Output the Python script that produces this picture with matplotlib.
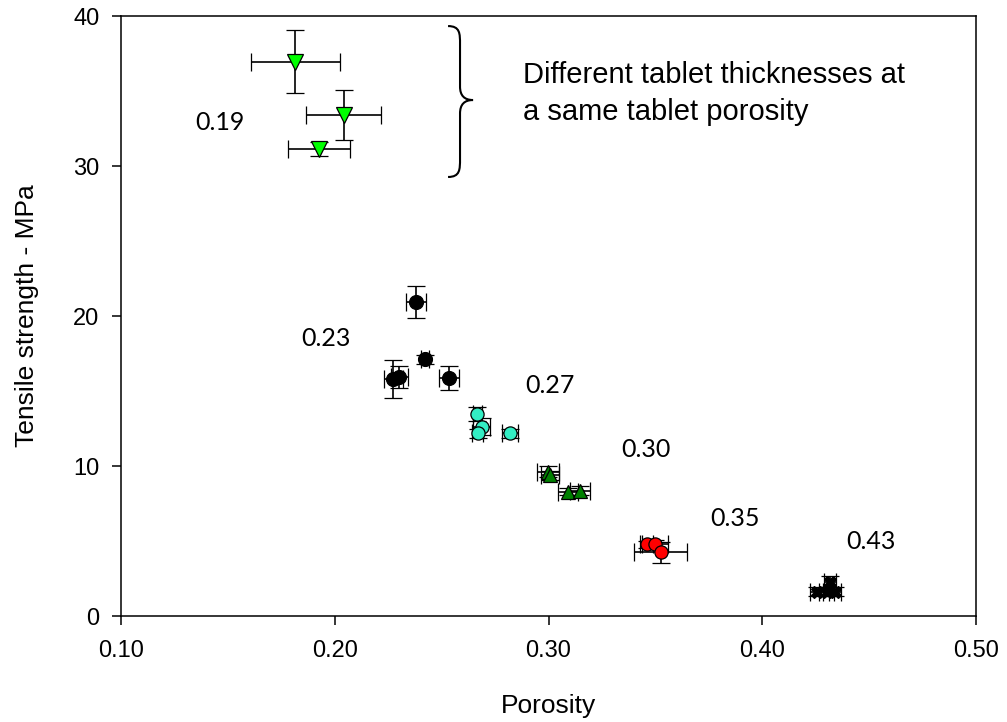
import matplotlib
matplotlib.use("Agg")
import matplotlib.pyplot as plt
from matplotlib.path import Path
from matplotlib.patches import PathPatch

# Porosity groups: x = porosity, y = tensile strength (MPa), with errors
p019_x = [0.1815, 0.2042, 0.1928]
p019_y = [36.95, 33.40, 31.13]
p019_xerr = [0.0208, 0.0175, 0.0145]
p019_yerr = [2.09, 1.68, 0.47]

p023_x = [0.2379, 0.2422, 0.2535, 0.2274, 0.2302]
p023_y = [20.95, 17.13, 15.85, 15.80, 15.95]
p023_xerr = [0.0047, 0.0020, 0.0047, 0.0045, 0.0040]
p023_yerr = [1.08, 0.30, 0.80, 1.25, 0.75]

p027_x = [0.2667, 0.2687, 0.2669, 0.2820]
p027_y = [13.45, 12.62, 12.18, 12.18]
p027_xerr = [0.0020, 0.0039, 0.0025, 0.0037]
p027_yerr = [0.47, 0.58, 0.30, 0.30]

p030_x = [0.2999, 0.3007, 0.3093, 0.3147]
p030_y = [9.62, 9.40, 8.29, 8.35]
p030_xerr = [0.0051, 0.0040, 0.0047, 0.0047]
p030_yerr = [0.35, 0.30, 0.25, 0.30]

p035_x = [0.3459, 0.3498, 0.3525]
p035_y = [4.78, 4.78, 4.25]
p035_xerr = [0.0030, 0.0060, 0.0125]
p035_yerr = [0.25, 0.30, 0.70]

p043_x = [0.4255, 0.4301, 0.4317, 0.4340]
p043_y = [1.62, 1.62, 2.29, 1.62]
p043_xerr = [0.0030, 0.0035, 0.0030, 0.0030]
p043_yerr = [0.30, 0.30, 0.35, 0.30]

group_labels = ["0.19", "0.23", "0.27", "0.30", "0.35", "0.43"]
label_x = [0.1463, 0.1959, 0.3007, 0.3456, 0.3873, 0.4509]
label_y = [32.93, 18.53, 15.40, 11.13, 6.47, 5.00]

fig = plt.figure(figsize=(10.07, 7.22), dpi=100)
ax = fig.add_axes([0.1202, 0.1468, 0.8490, 0.8310])

eb = dict(ls="none", ecolor="black", elinewidth=1.2, capsize=6.5,
          capthick=1.2, markeredgecolor="black", markeredgewidth=0.9)

ax.errorbar(p019_x, p019_y, xerr=p019_xerr, yerr=p019_yerr, marker="v",
            ms=11, mfc="#00ff00", **eb)
ax.errorbar(p023_x, p023_y, xerr=p023_xerr, yerr=p023_yerr, marker="o",
            ms=10, mfc="black", **eb)
ax.errorbar(p027_x, p027_y, xerr=p027_xerr, yerr=p027_yerr, marker="o",
            ms=9.5, mfc="#33eec4", **eb)
ax.errorbar(p030_x, p030_y, xerr=p030_xerr, yerr=p030_yerr, marker="^",
            ms=10.5, mfc="#008000", **eb)
ax.errorbar(p035_x, p035_y, xerr=p035_xerr, yerr=p035_yerr, marker="o",
            ms=9.5, mfc="#ff0000", **eb)
ax.errorbar(p043_x, p043_y, xerr=p043_xerr, yerr=p043_yerr, marker="X",
            ms=9, mfc="black", **eb)

for lab, lx, ly in zip(group_labels, label_x, label_y):
    ax.text(lx, ly, lab, family="Lato", fontsize=18, ha="center", va="center")

ax.text(0.2881, 36.07, "Different tablet thicknesses at", family="Liberation Sans",
        fontsize=21, ha="left", va="center")
ax.text(0.2881, 33.60, "a same tablet porosity", family="Liberation Sans",
        fontsize=21, ha="left", va="center")

# curly brace next to the 0.19 group
x0, xm, xt = 0.2530, 0.2586, 0.2647
yt, ymid, yb = 39.33, 34.40, 29.27
verts = [
    (x0, yt), (xm, yt), (xm, yt - 0.5), (xm, yt - 1.2),
    (xm, ymid + 0.9),
    (xm, ymid + 0.3), (xm + 0.002, ymid), (xt, ymid),
    (xm + 0.002, ymid), (xm, ymid - 0.3), (xm, ymid - 0.9),
    (xm, yb + 1.2),
    (xm, yb + 0.5), (xm, yb), (x0, yb),
]
codes = [Path.MOVETO, Path.CURVE4, Path.CURVE4, Path.CURVE4,
         Path.LINETO,
         Path.CURVE4, Path.CURVE4, Path.CURVE4,
         Path.CURVE4, Path.CURVE4, Path.CURVE4,
         Path.LINETO,
         Path.CURVE4, Path.CURVE4, Path.CURVE4]
ax.add_patch(PathPatch(Path(verts, codes), fill=False, lw=1.5, ec="black"))

ax.set_xlim(0.10, 0.50)
ax.set_ylim(0, 40)
ax.set_xticks([0.10, 0.20, 0.30, 0.40, 0.50])
ax.set_xticklabels(["0.10", "0.20", "0.30", "0.40", "0.50"])
ax.set_yticks([0, 10, 20, 30, 40])
ax.tick_params(direction="out", length=6.5, width=1.1, labelsize=17)
ax.tick_params(axis="x", pad=11)
ax.tick_params(axis="y", pad=9)
for lbl in ax.get_xticklabels() + ax.get_yticklabels():
    lbl.set_family("Liberation Sans")
for s in ax.spines.values():
    s.set_linewidth(1.1)

ax.set_xlabel("Porosity", family="Liberation Sans", fontsize=19, labelpad=23)
ax.set_ylabel("Tensile strength - MPa", family="Liberation Sans", fontsize=19,
              labelpad=25)

fig.savefig("out.png", dpi=100)
